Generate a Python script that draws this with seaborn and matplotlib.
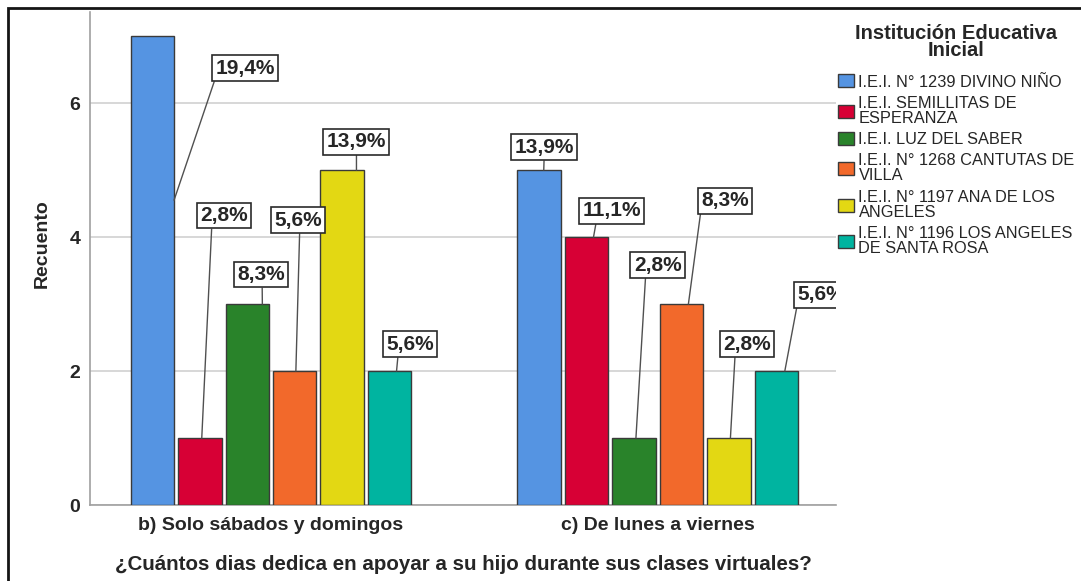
import matplotlib
matplotlib.use("Agg")
import pandas as pd
import seaborn as sns
from matplotlib import pyplot as plt
from matplotlib.patches import Patch, Rectangle

categories = ["b) Solo sábados y domingos", "c) De lunes a viernes"]
institutions = [
    "I.E.I. N° 1239 DIVINO NIÑO",
    "I.E.I. SEMILLITAS DE\nESPERANZA",
    "I.E.I. LUZ DEL SABER",
    "I.E.I. N° 1268 CANTUTAS DE\nVILLA",
    "I.E.I. N° 1197 ANA DE LOS\nANGELES",
    "I.E.I. N° 1196 LOS ANGELES\nDE SANTA ROSA",
]
counts_weekend = [7, 1, 3, 2, 5, 2]
counts_weekdays = [5, 4, 1, 3, 1, 2]
colors = ["#5594E2", "#D70035", "#29832A", "#F2692B", "#E3D813", "#00B4A0"]

# label boxes: centre offset from bar centre (x units), centre height (y units)
label_dx = [[0.240, 0.063, 0.036, 0.008, 0.037, 0.053],
            [0.013, 0.065, 0.061, 0.112, 0.047, 0.116]]
label_y = [[6.52, 4.32, 3.44, 4.25, 5.42, 2.40],
           [5.34, 4.39, 3.58, 4.54, 2.40, 3.14]]
# where the leader line leaves the box bottom (fraction of width)
line_relx = [[0.0, 0.24, 0.52, 0.54, 0.5, 0.25],
             [0.5, 0.24, 0.25, 0.0, 0.25, 0.0]]
# where the leader line meets the bar (x offset, height; None = bar top)
anchor_dx = [[0.056, 0.005, 0.039, 0.003, 0.037, 0.018],
             [0.012, 0.018, 0.005, 0.018, 0.004, 0.022]]
anchor_y = [[4.55, None, None, None, None, None],
            [None, None, None, None, None, None]]


def build_frame():
    rows = []
    for cat, vals in zip(categories, [counts_weekend, counts_weekdays]):
        for inst, v in zip(institutions, vals):
            rows.append({"dias": cat, "inst": inst, "count": v})
    return pd.DataFrame(rows)


def pct_label(v, total):
    return f"{100 * v / total:.1f}%".replace(".", ",")


def main():
    sns.set_style("white")
    plt.rcParams["font.family"] = ["Liberation Sans", "DejaVu Sans"]

    df = build_frame()
    total = df["count"].sum()

    fig = plt.figure(figsize=(10.81, 5.81), dpi=100)
    ax = fig.add_axes([90 / 1081, 1 - 505 / 581, 746 / 1081, 493 / 581])

    sns.barplot(data=df, x="dias", y="count", hue="inst", order=categories,
                hue_order=institutions, palette=colors, saturation=1,
                width=0.736, gap=0.085, edgecolor="#3a3a3a", linewidth=1.0,
                legend=False, ax=ax, zorder=3)

    ax.set_ylim(0, 7.36)
    ax.set_xlim(-0.468, 1.461)
    ax.set_yticks([0, 2, 4, 6])
    ax.yaxis.grid(True, color="#d4d4d4", linewidth=1.3, zorder=0)
    ax.set_axisbelow(True)
    for side in ["top", "right"]:
        ax.spines[side].set_visible(False)
    for side in ["left", "bottom"]:
        ax.spines[side].set_color("#a0a0a0")
        ax.spines[side].set_linewidth(1.2)
    ax.tick_params(axis="y", length=0, labelsize=14, pad=7)
    ax.tick_params(axis="x", length=0, labelsize=14, pad=9)
    for t in ax.get_xticklabels() + ax.get_yticklabels():
        t.set_fontweight("bold")

    ax.set_xlabel("¿Cuántos dias dedica en apoyar a su hijo durante sus clases virtuales?",
                  fontsize=14.8, fontweight="bold", labelpad=15)
    ax.set_ylabel("Recuento", fontsize=14, fontweight="bold")
    ax.yaxis.set_label_coords(-0.052, 0.53)

    bars = sorted(ax.patches, key=lambda p: p.get_x())
    all_counts = [counts_weekend, counts_weekdays]
    for g in range(len(categories)):
        for h in range(len(institutions)):
            bar = bars[g * len(institutions) + h]
            bx = bar.get_x() + bar.get_width() / 2
            val = all_counts[g][h]
            ay = anchor_y[g][h] if anchor_y[g][h] is not None else val
            ax.annotate(pct_label(val, total),
                        xy=(bx + anchor_dx[g][h], ay),
                        xytext=(bx + label_dx[g][h], label_y[g][h]),
                        ha="center", va="center", fontsize=15, fontweight="bold",
                        bbox=dict(boxstyle="square,pad=0.16", fc="white",
                                  ec="#2a2a2a", lw=1.2),
                        arrowprops=dict(arrowstyle="-", color="#505050", lw=1.0,
                                        shrinkA=0, shrinkB=0,
                                        relpos=(line_relx[g][h], 0)),
                        clip_on=True, zorder=6)

    handles = [Patch(facecolor=c, edgecolor="#3a3a3a", linewidth=1.0) for c in colors]
    leg = fig.legend(handles, institutions, loc="upper left",
                     bbox_to_anchor=(838 / 1081, 1 - 24 / 581),
                     frameon=False, borderpad=0, borderaxespad=0,
                     prop={"size": 11.8}, handlelength=0.95, handleheight=0.85,
                     handletextpad=0.3, labelspacing=0.38,
                     title="Institución Educativa\nInicial",
                     title_fontproperties={"size": 14.5, "weight": "bold"})
    leg._legend_box.sep = 10
    for t in leg.get_texts():
        t.set_linespacing(1.0)
    leg.get_title().set_multialignment("center")
    leg.get_title().set_linespacing(0.9)

    frame = Rectangle((8 / 1081, -0.1), 1.2, 1.1 - 8 / 581, transform=fig.transFigure,
                      fill=False, edgecolor="#151515", linewidth=2.0)
    fig.add_artist(frame)

    fig.savefig("out.png", dpi=100)


if __name__ == "__main__":
    main()
